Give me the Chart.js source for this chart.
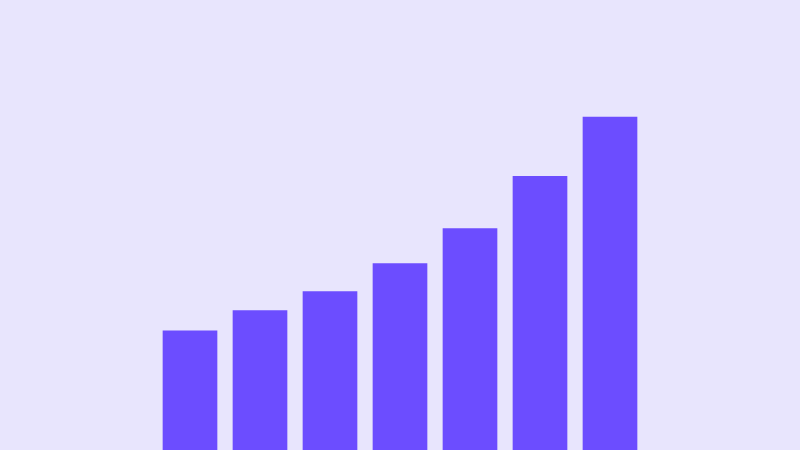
<!DOCTYPE html>
<html>
<head>
<meta charset="utf-8">
<script src="https://cdn.jsdelivr.net/npm/chart.js@4"></script>
<style>
    html, body { margin: 0; padding: 0; background: #E8E5FD; }
    #wrap { width: 800px; height: 450px; }
</style>
</head>
<body>
<div id="wrap"><canvas id="chart"></canvas></div>
<script>
const categories = ["1", "2", "3", "4", "5", "6", "7"];
const values = [26.5, 31.0, 35.2, 41.4, 49.2, 60.8, 74.0];

const ctx = document.getElementById("chart");

new Chart(ctx, {
    type: "bar",
    data: {
        labels: categories,
        datasets: [{
            data: values,
            backgroundColor: "#6C4DFF",
            borderWidth: 0,
            barThickness: 54
        }]
    },
    options: {
        responsive: true,
        maintainAspectRatio: false,
        animation: false,
        layout: { padding: { left: 155, right: 155, top: 0, bottom: 0 } },
        scales: {
            x: { display: false },
            y: { display: false, min: 0, max: 100 }
        },
        plugins: {
            legend: { display: false },
            tooltip: { enabled: false }
        }
    }
});
</script>
</body>
</html>
